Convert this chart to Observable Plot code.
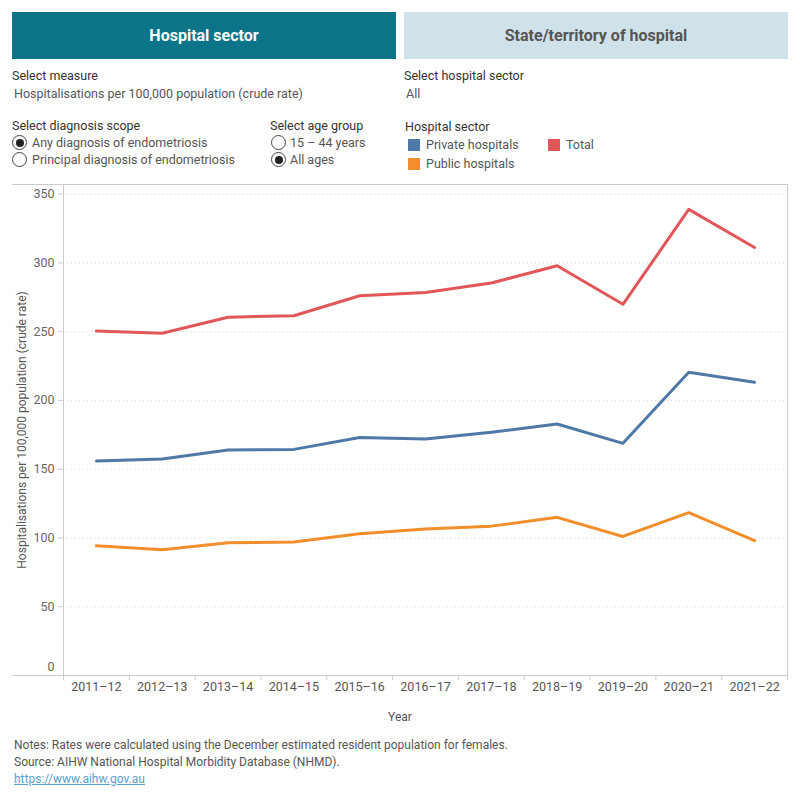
<!DOCTYPE html>
<html>
<head>
<meta charset="utf-8">
<script src="https://cdn.jsdelivr.net/npm/d3@7"></script>
<script src="https://cdn.jsdelivr.net/npm/@observablehq/plot@0.6"></script>
<style>
  html, body { margin: 0; padding: 0; background: #fff; }
  body { width: 800px; height: 800px; position: relative; font-family: Roboto, "Noto Sans", sans-serif; font-size: 12px; color: #333; overflow: hidden; }
  .abs { position: absolute; line-height: 16px; white-space: nowrap; }
  .hdr { position: absolute; top: 12px; height: 47px; width: 384px; display: flex; align-items: center; justify-content: center; font-size: 16px; font-weight: bold; }
  .lbl { color: #333; font-size: 12.5px; }
  .val { color: #555; font-size: 12.5px; }
  .radio { position: absolute; width: 15px; height: 15px; border: 1px solid #444; border-radius: 50%; box-sizing: border-box; background: #fff; }
  .radio.on::after { content: ""; position: absolute; left: 2.5px; top: 2.5px; width: 8px; height: 8px; border-radius: 50%; background: #222; }
  .sq { position: absolute; width: 12px; height: 12px; }
  #chart { position: absolute; left: 0; top: 180px; }
  .note { color: #555; font-size: 12px; }
  a { color: #5aa1c9; }
  #ylab { position: absolute; left: 22px; top: 430px; transform: translate(-50%, -50%) rotate(-90deg); color: #555; font-size: 12px; line-height: 14px; white-space: nowrap; }
</style>
</head>
<body>
<div class="hdr" style="left:12px;background:#0b7489;color:#fff;">Hospital sector</div>
<div class="hdr" style="left:404px;background:#cfe2ea;color:#555;">State/territory of hospital</div>

<div class="abs lbl" style="left:12px;top:68px;">Select measure</div>
<div class="abs val" style="left:14px;top:86px;">Hospitalisations per 100,000 population (crude rate)</div>
<div class="abs lbl" style="left:404px;top:68px;">Select hospital sector</div>
<div class="abs val" style="left:406px;top:86px;">All</div>

<div class="abs lbl" style="left:12px;top:118px;">Select diagnosis scope</div>
<div class="radio on" style="left:12px;top:135px;"></div>
<div class="abs val" style="left:32px;top:135px;">Any diagnosis of endometriosis</div>
<div class="radio" style="left:12px;top:152px;"></div>
<div class="abs val" style="left:32px;top:152px;">Principal diagnosis of endometriosis</div>

<div class="abs lbl" style="left:270px;top:118px;">Select age group</div>
<div class="radio" style="left:271px;top:135px;"></div>
<div class="abs val" style="left:290px;top:135px;">15 – 44 years</div>
<div class="radio on" style="left:271px;top:152px;"></div>
<div class="abs val" style="left:290px;top:152px;">All ages</div>

<div class="abs lbl" style="left:405px;top:119px;">Hospital sector</div>
<div id="legend"></div>

<div id="chart"></div>
<div id="ylab">Hospitalisations per 100,000 population (crude rate)</div>
<div class="abs" style="left:0;width:800px;text-align:center;top:709px;color:#555;font-size:12px;">Year</div>

<div class="abs note" style="left:14px;top:737px;">Notes: Rates were calculated using the December estimated resident population for females.</div>
<div class="abs note" style="left:14px;top:754px;">Source: AIHW National Hospital Morbidity Database (NHMD).</div>
<div class="abs note" style="left:14px;top:771px;"><a href="https://www.aihw.gov.au">https://www.aihw.gov.au</a></div>

<script>
const years = ["2011–12","2012–13","2013–14","2014–15","2015–16","2016–17","2017–18","2018–19","2019–20","2020–21","2021–22"];
const privateRates = [156.0,157.4,164.0,164.4,173.0,172.0,176.8,182.9,168.8,220.5,213.2];
const publicRates  = [94.4,91.4,96.6,97.0,103.1,106.5,108.6,115.0,101.1,118.4,98.0];
const totalRates   = [250.5,248.9,260.5,261.6,276.1,278.5,285.4,297.9,269.9,338.9,311.2];
const sectors = ["Private hospitals","Public hospitals","Total"];
const sectorColors = ["#4e79a7","#f28e2b","#e15759"];
const yTicks = [0,50,100,150,200,250,300,350];
const yMax = 357;

// legend (HTML)
const legendPos = [[408,139,426],[408,158,426],[548,139,566]];
const legend = document.getElementById("legend");
sectors.forEach((s,k)=>{
  const [x,y,tx] = legendPos[k];
  const sq = document.createElement("div");
  sq.className = "sq"; sq.style.left = x+"px"; sq.style.top = y+"px"; sq.style.background = sectorColors[k];
  legend.appendChild(sq);
  const t = document.createElement("div");
  t.className = "abs val"; t.style.left = tx+"px"; t.style.top = (y-2)+"px"; t.textContent = s;
  legend.appendChild(t);
});

const seriesValues = [privateRates, publicRates, totalRates];
const rows = [];
sectors.forEach((s,k)=>{
  years.forEach((yr,i)=> rows.push({i, year: yr, sector: s, value: seriesValues[k][i]}));
});

const plot = Plot.plot({
  width: 800,
  height: 550,
  marginLeft: 63,
  marginRight: 13,
  marginTop: 4,
  marginBottom: 55,
  style: {fontFamily: "Roboto, 'Noto Sans', sans-serif", fontSize: "12.5px", background: "transparent", overflow: "visible"},
  x: {type: "linear", domain: [-0.5, years.length - 0.5]},
  y: {domain: [0, yMax]},
  color: {domain: sectors, range: sectorColors},
  marks: [
    Plot.gridY(yTicks.filter(v => v > 0), {stroke: "#d8d8d8", strokeOpacity: 1, strokeDasharray: "1,3"}),
    Plot.axisY(yTicks.filter(v => v > 0), {tickSize: 5, tickPadding: 4, stroke: "#ccc", fill: "#666", label: null}),
    Plot.axisY([0], {tickSize: 0, tickPadding: 9, dy: -9, fill: "#666", label: null}),
    Plot.axisX(d3.range(years.length + 1).map(i => i - 0.5), {tickSize: 5, stroke: "#ccc", tickFormat: () => "", label: null}),
    Plot.axisX(d3.range(years.length), {tickSize: 0, tickPadding: 7, tickFormat: i => years[i], fill: "#555", label: null}),
    Plot.frame({stroke: "#ccc"}),
    Plot.line(rows, {x: "i", y: "value", z: "sector", stroke: "sector", strokeWidth: 3})
  ]
});
document.getElementById("chart").appendChild(plot);

// extend the outer frame lines to the left edge of the panel
const svg = d3.select(plot);
const x0 = 63, yTop = 4, yBot = 495;
svg.append("line").attr("x1", 12).attr("x2", x0).attr("y1", yTop + 0.5).attr("y2", yTop + 0.5).attr("stroke", "#ccc");
svg.append("line").attr("x1", 12).attr("x2", x0).attr("y1", yBot + 0.5).attr("y2", yBot + 0.5).attr("stroke", "#ccc");
</script>
</body>
</html>
